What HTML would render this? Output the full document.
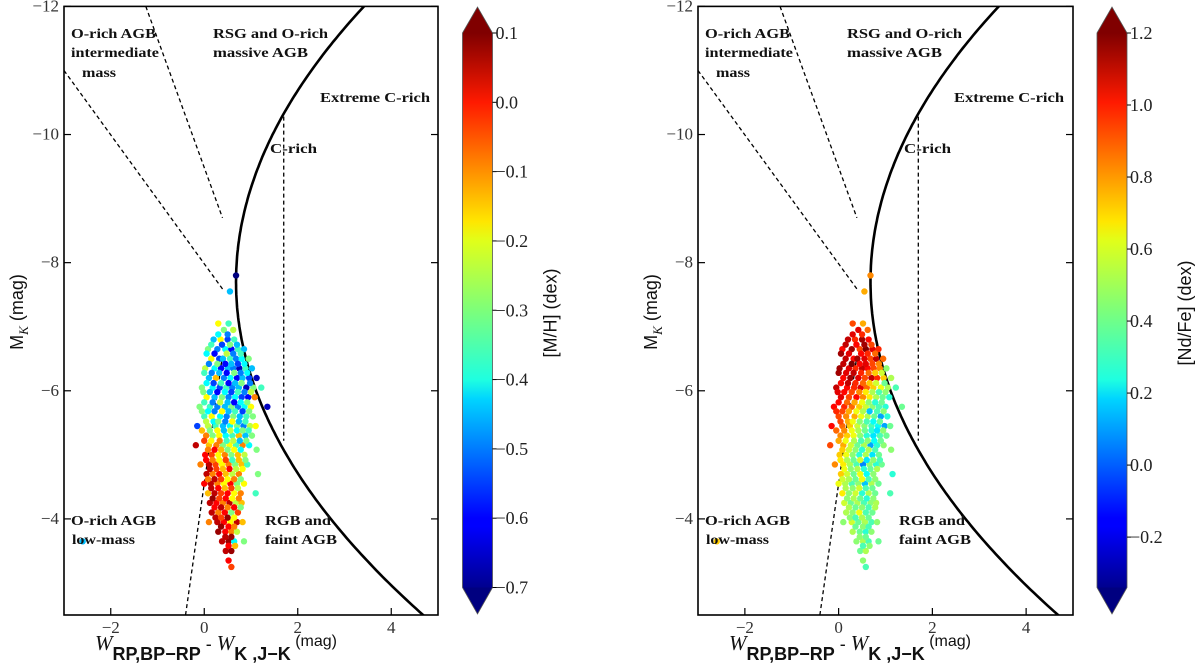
<!DOCTYPE html>
<html><head><meta charset="utf-8"><style>
html,body{margin:0;padding:0;background:#fff;}
svg{display:block;}
</style></head><body>
<svg id="fig" width="1200" height="671" viewBox="0 0 1200 671" xmlns="http://www.w3.org/2000/svg">
<defs>
<linearGradient id="jet" x1="0" y1="1" x2="0" y2="0">
<stop offset="0" stop-color="#00008f"/><stop offset="0.11" stop-color="#0000ff"/><stop offset="0.125" stop-color="#0000ff"/>
<stop offset="0.34" stop-color="#00d4ff"/><stop offset="0.375" stop-color="#1fffe0"/><stop offset="0.5" stop-color="#7dff7a"/>
<stop offset="0.625" stop-color="#e0ff1a"/><stop offset="0.66" stop-color="#ffe600"/><stop offset="0.875" stop-color="#ff1a00"/>
<stop offset="1" stop-color="#800000"/>
</linearGradient>
</defs>
</svg>
<script>
// ---- data (shared star positions, two colour quantities) ----
const starX = [
0.30,0.52,
0.42,0.62,
0.20,0.35,0.50,0.64,
0.08,0.28,0.45,0.58,0.72,0.85,
0.15,0.32,0.40,0.55,0.68,0.80,0.95,
0.02,0.22,0.36,0.50,0.62,0.75,0.88,1.02,
0.10,0.25,0.42,0.56,0.70,0.82,0.96,1.12,
-0.05,0.18,0.33,0.47,0.60,0.74,0.90,1.05,1.22,
0.05,0.22,0.38,0.52,0.66,0.80,0.94,1.08,
-0.10,0.12,0.28,0.44,0.58,0.72,0.86,1.00,1.35,
0.00,0.16,0.34,0.48,0.62,0.76,0.90,1.04,
-0.15,0.08,0.24,0.40,0.55,0.70,0.84,0.98,1.10,
0.04,0.18,0.32,0.46,0.60,0.74,0.88,1.02,
-0.18,0.10,0.26,0.40,0.54,0.68,0.82,0.96,
0.02,0.16,0.30,0.44,0.58,0.72,0.86,
-0.08,0.10,0.24,0.38,0.52,0.66,0.80,0.92,
0.05,0.18,0.32,0.46,0.60,0.74,1.15,
0.00,0.14,0.28,0.42,0.56,0.70,0.85,
0.08,0.22,0.36,0.50,0.64,0.78,1.10,
0.12,0.26,0.40,0.54,0.68,0.80,
0.16,0.30,0.44,0.58,0.72,
0.10,0.28,0.42,0.56,0.70,0.82,
0.30,0.45,0.58,0.70,
0.38,0.52,0.64,0.85,
0.46,0.58,
0.52,
0.58,
0.55,0.68,-2.6,
0.30,0.50,
0.15,0.38,0.55,0.70,
0.05,0.22,0.48,0.62,0.78,
0.10,0.28,0.45,0.58,0.72,0.86,
0.00,0.16,0.32,0.48,0.64,0.78,0.92,
0.05,0.20,0.36,0.52,0.66,0.80,0.98,
-0.02,0.12,0.28,0.44,0.58,0.72,0.86,1.00,
0.00,0.18,0.34,0.50,0.64,0.78,0.92,
-0.05,0.08,0.22,0.38,0.52,0.66,0.82,0.96,
0.04,0.20,0.30,0.45,0.60,0.74,0.88,
-0.05,0.12,0.28,0.42,0.56,0.70,0.82,0.95,
0.00,0.15,0.33,0.48,0.62,0.76,0.90,
0.08,0.22,0.36,0.50,0.64,0.78,1.12,
0.04,0.18,0.32,0.46,0.60,0.74,0.88,
0.12,0.26,0.40,0.54,0.68,0.82,
0.08,0.22,0.36,0.50,0.64,0.78,
0.15,0.30,0.44,0.58,0.72,
0.18,0.32,0.46,0.60,0.74,
0.22,0.36,0.50,0.64,0.78,
0.24,0.36,0.50,0.64,
0.36,0.52,0.64,
0.45,0.58,
0.52,0.66];
const starY = [
-7.05,-7.05,
-6.95,-6.95,
-6.8,-6.8,-6.8,-6.8,
-6.65,-6.65,-6.65,-6.65,-6.65,-6.65,
-6.5,-6.5,-6.5,-6.5,-6.5,-6.5,-6.5,
-6.35,-6.35,-6.35,-6.35,-6.35,-6.35,-6.35,-6.35,
-6.2,-6.2,-6.2,-6.2,-6.2,-6.2,-6.2,-6.2,
-6.05,-6.05,-6.05,-6.05,-6.05,-6.05,-6.05,-6.05,-6.05,
-5.9,-5.9,-5.9,-5.9,-5.9,-5.9,-5.9,-5.9,
-5.75,-5.75,-5.75,-5.75,-5.75,-5.75,-5.75,-5.75,-5.75,
-5.6,-5.6,-5.6,-5.6,-5.6,-5.6,-5.6,-5.6,
-5.45,-5.45,-5.45,-5.45,-5.45,-5.45,-5.45,-5.45,-5.45,
-5.3,-5.3,-5.3,-5.3,-5.3,-5.3,-5.3,-5.3,
-5.15,-5.15,-5.15,-5.15,-5.15,-5.15,-5.15,-5.15,
-5.0,-5.0,-5.0,-5.0,-5.0,-5.0,-5.0,
-4.85,-4.85,-4.85,-4.85,-4.85,-4.85,-4.85,-4.85,
-4.7,-4.7,-4.7,-4.7,-4.7,-4.7,-4.7,
-4.55,-4.55,-4.55,-4.55,-4.55,-4.55,-4.55,
-4.4,-4.4,-4.4,-4.4,-4.4,-4.4,-4.4,
-4.25,-4.25,-4.25,-4.25,-4.25,-4.25,
-4.1,-4.1,-4.1,-4.1,-4.1,
-3.95,-3.95,-3.95,-3.95,-3.95,-3.95,
-3.8,-3.8,-3.8,-3.8,
-3.65,-3.65,-3.65,-3.65,
-3.5,-3.5,
-3.35,
-3.25,
-7.55,-7.8,-3.65,
-6.88,-6.88,
-6.72,-6.72,-6.72,-6.72,
-6.58,-6.58,-6.58,-6.58,-6.58,
-6.42,-6.42,-6.42,-6.42,-6.42,-6.42,
-6.28,-6.28,-6.28,-6.28,-6.28,-6.28,-6.28,
-6.12,-6.12,-6.12,-6.12,-6.12,-6.12,-6.12,
-5.98,-5.98,-5.98,-5.98,-5.98,-5.98,-5.98,-5.98,
-5.82,-5.82,-5.82,-5.82,-5.82,-5.82,-5.82,
-5.68,-5.68,-5.68,-5.68,-5.68,-5.68,-5.68,-5.68,
-5.52,-5.52,-5.52,-5.52,-5.52,-5.52,-5.52,
-5.38,-5.38,-5.38,-5.38,-5.38,-5.38,-5.38,-5.38,
-5.22,-5.22,-5.22,-5.22,-5.22,-5.22,-5.22,
-5.08,-5.08,-5.08,-5.08,-5.08,-5.08,-5.08,
-4.92,-4.92,-4.92,-4.92,-4.92,-4.92,-4.92,
-4.78,-4.78,-4.78,-4.78,-4.78,-4.78,
-4.62,-4.62,-4.62,-4.62,-4.62,-4.62,
-4.48,-4.48,-4.48,-4.48,-4.48,
-4.32,-4.32,-4.32,-4.32,-4.32,
-4.18,-4.18,-4.18,-4.18,-4.18,
-4.02,-4.02,-4.02,-4.02,
-3.88,-3.88,-3.88,
-3.72,-3.72,
-3.58,-3.58];
const metallicity = [
-0.2,-0.35,
-0.3,-0.25,
-0.45,-0.2,-0.55,-0.35,
-0.3,-0.5,-0.4,-0.6,-0.35,-0.45,
-0.2,-0.55,-0.45,-0.35,-0.5,-0.4,-0.3,
-0.25,-0.4,-0.6,-0.45,-0.5,-0.65,-0.35,-0.45,
-0.45,-0.15,-0.5,-0.4,-0.6,-0.45,-0.55,-0.65,
-0.3,-0.4,-0.55,-0.35,-0.5,-0.45,-0.65,-0.3,-0.35,
-0.2,-0.45,-0.3,-0.5,-0.4,-0.55,-0.6,-0.1,
-0.3,-0.35,-0.5,-0.45,-0.3,-0.5,-0.4,-0.2,-0.65,
-0.35,-0.2,-0.4,-0.5,-0.3,-0.45,-0.35,-0.3,
-0.55,-0.25,-0.35,-0.45,-0.4,-0.3,-0.5,-0.25,-0.2,
-0.1,-0.3,-0.2,-0.4,-0.35,-0.15,-0.45,-0.3,
0.05,-0.15,-0.1,-0.3,-0.2,-0.35,-0.1,-0.4,
0.0,-0.05,-0.2,-0.1,-0.3,-0.15,-0.25,
-0.1,0.05,-0.05,-0.2,-0.1,-0.3,-0.15,-0.35,
0.05,-0.1,0.0,-0.15,-0.25,-0.1,-0.3,
0.0,0.05,-0.1,-0.2,0.0,-0.3,-0.2,
-0.15,0.05,-0.05,0.0,-0.2,-0.1,-0.35,
0.05,0.0,-0.1,0.05,-0.25,-0.15,
0.05,-0.1,0.0,-0.3,-0.05,
-0.1,0.05,0.0,-0.2,0.05,-0.15,
0.08,0.0,-0.1,-0.25,
0.05,0.08,-0.4,-0.3,
0.05,0.08,
0.0,
-0.05,
-0.45,-0.7,-0.45,
-0.4,-0.5,
-0.35,-0.55,-0.3,-0.45,
-0.4,-0.6,-0.25,-0.5,-0.35,
-0.5,-0.3,-0.6,-0.45,-0.55,-0.4,
-0.35,-0.5,-0.45,-0.6,-0.3,-0.5,-0.4,
-0.4,-0.55,-0.35,-0.6,-0.45,-0.3,-0.5,
-0.3,-0.45,-0.6,-0.4,-0.55,-0.35,-0.5,-0.25,
-0.35,-0.5,-0.25,-0.45,-0.6,-0.4,-0.3,
-0.3,-0.4,-0.5,-0.2,-0.45,-0.35,-0.55,-0.3,
-0.25,-0.4,-0.3,-0.5,-0.2,-0.45,-0.35,
-0.15,-0.3,-0.2,-0.45,-0.25,-0.4,-0.3,-0.35,
-0.05,-0.2,-0.1,-0.35,-0.25,-0.45,-0.3,
-0.1,0.0,-0.15,-0.3,-0.2,-0.4,-0.3,
0.0,-0.1,-0.2,-0.05,-0.35,-0.15,-0.3,
0.05,-0.05,-0.15,0.0,-0.25,-0.2,
-0.1,0.05,-0.05,-0.2,-0.1,-0.3,
0.05,0.0,-0.15,-0.05,-0.25,
0.08,-0.05,0.0,-0.2,-0.1,
0.0,0.05,-0.1,0.0,-0.3,
0.05,-0.05,0.08,-0.2,
0.08,0.0,-0.1,
0.05,0.08,
0.0,-0.15];
const ndfe = [
0.9,0.75,
1.05,0.85,
1.1,0.95,1.15,1.0,
1.0,1.15,0.9,1.2,1.05,0.95,
1.1,1.0,1.15,1.05,0.9,1.1,0.85,
1.15,1.05,0.95,1.1,1.0,0.9,0.8,0.45,
1.0,1.15,1.05,0.9,1.1,0.95,0.7,0.5,
1.1,1.0,0.95,1.05,0.85,0.7,0.6,0.5,0.35,
1.05,0.9,1.0,0.8,0.65,0.5,0.4,0.3,
1.0,0.95,0.85,0.7,0.55,0.45,0.35,0.3,0.4,
0.9,0.8,0.75,0.6,0.5,0.4,0.1,0.3,
1.0,0.85,0.7,0.55,0.45,0.35,0.25,0.1,0.4,
0.8,0.7,0.6,0.45,0.3,0.2,0.35,0.4,
0.9,0.75,0.55,0.4,0.5,0.1,0.3,0.45,
0.7,0.6,0.45,0.3,0.5,0.2,0.4,
0.8,0.65,0.5,0.35,0.05,0.45,0.3,0.4,
0.7,0.55,0.4,0.6,0.25,0.45,0.3,
0.6,0.5,0.35,0.45,0.15,0.5,0.4,
0.65,0.45,0.55,0.3,0.5,0.4,0.35,
0.55,0.4,0.5,0.35,0.45,0.5,
0.5,0.45,0.6,0.35,0.4,
0.45,0.55,0.4,0.5,0.35,0.45,
0.5,0.4,0.3,0.45,
0.45,0.5,0.35,0.4,
0.4,0.5,
0.45,
0.35,
0.75,0.8,0.7,
1.05,0.95,
1.1,1.0,1.15,0.9,
1.15,1.05,1.0,0.95,0.85,
1.1,1.2,1.0,1.05,0.9,0.8,
1.15,1.05,1.1,0.95,0.85,0.7,0.55,
1.0,1.1,0.95,0.85,0.7,0.55,0.4,
1.05,1.0,0.9,0.8,0.65,0.5,0.35,0.45,
1.0,0.85,0.75,0.6,0.45,0.3,0.4,
0.95,0.9,0.75,0.6,0.5,0.15,0.35,0.45,
0.9,0.75,0.6,0.45,0.35,0.25,0.4,
0.85,0.8,0.6,0.5,0.4,0.3,0.2,0.45,
0.75,0.6,0.5,0.35,0.45,0.25,0.4,
0.7,0.55,0.45,0.3,0.5,0.35,0.45,
0.65,0.5,0.4,0.55,0.2,0.45,0.35,
0.6,0.45,0.5,0.3,0.4,0.5,
0.55,0.5,0.4,0.6,0.35,0.45,
0.5,0.45,0.55,0.35,0.4,
0.45,0.5,0.4,0.3,0.45,
0.5,0.4,0.45,0.35,0.5,
0.45,0.35,0.5,0.4,
0.4,0.45,0.35,
0.45,0.4,
0.35,0.45];
const xTicks = [-2, 0, 2, 4];
const yTicks = [-12, -10, -8, -6, -4];
const cbTicksLeft = [0.1, 0.0, -0.1, -0.2, -0.3, -0.4, -0.5, -0.6, -0.7];
const cbTicksRight = [1.2, 1.0, 0.8, 0.6, 0.4, 0.2, 0.0, -0.2];

const NS = 'http://www.w3.org/2000/svg';
const svg = document.getElementById('fig');
function mk(tag, attrs, parent) {
  const e = document.createElementNS(NS, tag);
  for (const k in attrs) e.setAttribute(k, attrs[k]);
  (parent || svg).appendChild(e);
  return e;
}
function jet(t) {
  t = Math.max(0, Math.min(1, t));
  const c = v => Math.round(255 * Math.max(0, Math.min(1, v)));
  const r = 1.5 - Math.abs(4 * t - 3), g = 1.5 - Math.abs(4 * t - 2), b = 1.5 - Math.abs(4 * t - 1);
  return 'rgb(' + c(r) + ',' + c(g) + ',' + c(b) + ')';
}
function fmt(v) {
  const s = Math.abs(v).toFixed(1);
  return (v < -1e-9 ? '\u2212' : '') + s;
}

function panel(P) {
  const g = mk('g', {});
  
  
  const X0 = P.left, X1 = P.right, Y0 = 6.4, Y1 = 615;
  const sx = x => X0 + (x + 3) * (X1 - X0) / 8;
  const sy = y => Y0 + (y + 12) * (Y1 - Y0) / 9.5;

  const cid = 'clip' + P.left;
  const cp = mk('clipPath', { id: cid }, g);
  mk('rect', { x: X0, y: Y0, width: X1 - X0, height: Y1 - Y0 }, cp);
  const inner = mk('g', { 'clip-path': 'url(#' + cid + ')' }, g);

  const dashes = [[-3, -11, 0.4, -7.58], [-1.25, -12, 0.39, -8.7], [-0.4, -2.5, 0.39, -6.55], [1.7, -10.28, 1.7, -5.22]];
  dashes.forEach(d => {
    const l = mk('line', { x1: sx(d[0]), y1: sy(d[1]), x2: sx(d[2]), y2: sy(d[3]), stroke: '#000', 'stroke-width': 1.3, 'stroke-dasharray': '4,3' }, inner);
    
    
  });
  let d = '';
  for (let y = -12.2; y <= -2.3; y += 0.05) {
    const x = 0.68 + 0.148 * (y + 7.7) * (y + 7.7);
    d += (d ? 'L' : 'M') + sx(x).toFixed(1) + ',' + sy(y).toFixed(1);
  }
  const cur = mk('path', { d: d, fill: 'none', stroke: '#000', 'stroke-width': 2.6 }, inner);
  
  

  for (let i = 0; i < starX.length; i++) {
    const c = mk('circle', { cx: sx(starX[i]), cy: sy(starY[i]), r: 3.2, fill: jet((P.vals[i] - P.vmin) / (P.vmax - P.vmin)) }, inner);
    
    
  }

  const fr = mk('rect', { x: X0, y: Y0, width: X1 - X0, height: Y1 - Y0, fill: 'none', stroke: '#000', 'stroke-width': 1.6 }, g);
  
  

  xTicks.forEach(v => {
    mk('line', { x1: sx(v), y1: Y1, x2: sx(v), y2: Y1 - 7, stroke: '#000', 'stroke-width': 1.2 }, g);
    const t = mk('text', { x: sx(v), y: 633, 'text-anchor': 'middle', 'font-family': 'Liberation Serif, serif', 'font-size': 17, fill: '#333' }, g);
    t.textContent = v < 0 ? '\u2212' + (-v) : String(v);
    
    
  });
  yTicks.forEach(v => {
    mk('line', { x1: X0, y1: sy(v), x2: X0 + 7, y2: sy(v), stroke: '#000', 'stroke-width': 1.2 }, g);
    mk('line', { x1: X1, y1: sy(v), x2: X1 - 7, y2: sy(v), stroke: '#000', 'stroke-width': 1.2 }, g);
    const t = mk('text', { x: X0 - 5, y: sy(v) + 5, 'text-anchor': 'end', 'font-family': 'Liberation Serif, serif', 'font-size': 17, fill: '#333' }, g);
    t.textContent = '\u2212' + (-v);
    
    
  });

  const labs = [
    ['O-rich AGB', 71, 38, 85], ['intermediate', 71, 57, 88], ['mass', 82, 77, 34],
    ['RSG and O-rich', 213, 38, 115], ['massive AGB', 213, 57, 95],
    ['Extreme C-rich', 320, 102, 110], ['C-rich', 270, 153, 47],
    ['O-rich AGB', 71, 525, 85], ['low-mass', 72, 544, 63],
    ['RGB and', 265, 525, 66], ['faint AGB', 265, 544, 72]];
  labs.forEach(L => {
    const t = mk('text', { x: L[1] - 64 + X0, y: L[2], 'font-family': 'Liberation Serif, serif', 'font-weight': 'bold', 'font-size': 13.5, textLength: L[3], lengthAdjust: 'spacingAndGlyphs', fill: '#111' }, g);
    t.textContent = L[0];
    
    
  });

  const yt = mk('text', { x: 0, y: 0, transform: 'translate(' + (X0 - 41) + ',312) rotate(-90)', 'text-anchor': 'middle', 'font-family': 'Liberation Sans, sans-serif', 'font-size': 18, fill: '#111' }, g);
  yt.innerHTML = 'M<tspan font-family="Liberation Serif, serif" font-style="italic" font-size="13" dy="5">K</tspan><tspan dy="-5"> (mag)</tspan>';
  
  

  const xt = mk('text', { x: X0 + 31, y: 650, 'font-family': 'Liberation Sans, sans-serif', 'font-size': 18, fill: '#111' }, g);
  xt.innerHTML = '<tspan font-family="Liberation Serif, serif" font-style="italic" font-size="21">W</tspan>' +
    '<tspan font-weight="bold" dy="10" font-size="18">RP,BP\u2212RP</tspan>' +
    '<tspan dy="-10"> - </tspan><tspan font-family="Liberation Serif, serif" font-style="italic" font-size="21">W</tspan>' +
    '<tspan font-weight="bold" dy="10" font-size="18">K ,J\u2212K</tspan>' +
    '<tspan dy="-14" font-size="16"> (mag)</tspan>';
  
  

  const cx0 = P.cbx, cw = 30, ct = 33, cb = 587.5, cm = cx0 + cw / 2;
  const cg = mk('g', {}, g);
  
  
  mk('rect', { x: cx0, y: ct, width: cw, height: cb - ct, fill: 'url(#jet)' }, cg);
  mk('polygon', { points: cx0 + ',' + ct + ' ' + cm + ',7 ' + (cx0 + cw) + ',' + ct, fill: '#800000' }, cg);
  mk('polygon', { points: cx0 + ',' + cb + ' ' + cm + ',614 ' + (cx0 + cw) + ',' + cb, fill: '#000080' }, cg);
  mk('path', { d: 'M' + cx0 + ',' + ct + 'L' + cm + ',7L' + (cx0 + cw) + ',' + ct + 'L' + (cx0 + cw) + ',' + cb + 'L' + cm + ',614L' + cx0 + ',' + cb + 'Z', fill: 'none', stroke: '#555', 'stroke-width': 0.8 }, cg);
  const cy = v => ct + (P.cbmax - v) / (P.cbmax - P.cbmin) * (cb - ct);
  P.cbTicks.forEach(v => {
    mk('line', { x1: cx0 + cw, y1: cy(v), x2: cx0 + cw + 4, y2: cy(v), stroke: '#000', 'stroke-width': 1 }, cg);
    const t = mk('text', { x: cx0 + cw + 3, y: cy(v) + 6, 'font-family': 'Liberation Serif, serif', 'font-size': 18, fill: '#222' }, cg);
    t.textContent = fmt(v);
    
    
  });
  const ctl = mk('text', { x: 0, y: 0, transform: 'translate(' + (cx0 + 94) + ',313) rotate(-90)', 'text-anchor': 'middle', 'font-family': 'Liberation Sans, sans-serif', 'font-size': 18, fill: '#111' }, cg);
  ctl.textContent = P.cbLabel;
  
  
}

panel({ name: 'left-panel-metallicity', left: 64, right: 438, vals: metallicity, vmin: -0.7, vmax: 0.1,
  cbx: 462.5, cbmax: 0.1, cbmin: -0.7, cbTicks: cbTicksLeft, cbLabel: '[M/H] (dex)' });
panel({ name: 'right-panel-ndfe', left: 698, right: 1073, vals: ndfe, vmin: -0.34, vmax: 1.2,
  cbx: 1097, cbmax: 1.2, cbmin: -0.34, cbTicks: cbTicksRight, cbLabel: '[Nd/Fe] (dex)' });
</script>
</body></html>
